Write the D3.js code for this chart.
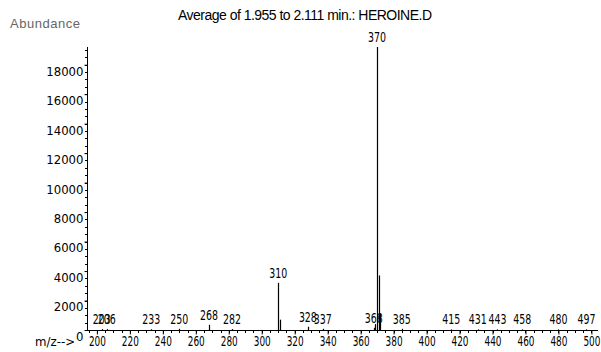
<!DOCTYPE html>
<html lang="en">
<meta charset="utf-8">
<head>
<script src="https://d3js.org/d3.v7.min.js"></script>
<style>
  body { margin: 0; background: #fff; }
  svg text { font-family: "DejaVu Sans Condensed", "DejaVu Sans", sans-serif; fill: #000; }
</style>
</head>
<body>
<svg id="spectrum" width="601" height="352"></svg>
<script>
// spectrum data
var mz        = [203, 206, 233, 250, 268, 282, 310, 311, 328, 337, 368, 369, 370, 371, 372, 385, 415, 431, 443, 458, 480, 497];
var abundance = [60, 60, 50, 80, 350, 60, 3200, 700, 220, 80, 150, 400, 19200, 3700, 1100, 80, 40, 40, 40, 40, 40, 40];
var labelled  = [203, 206, 233, 250, 268, 282, 310, 328, 337, 368, 370, 385, 415, 431, 443, 458, 480, 497];
var xTicks = [200, 220, 240, 260, 280, 300, 320, 340, 360, 380, 400, 420, 440, 460, 480, 500];
var yTicks = [0, 2000, 4000, 6000, 8000, 10000, 12000, 14000, 16000, 18000];

var svg = d3.select("svg#spectrum");

var x = d3.scaleLinear().domain([194, 504]).range([87, 598]);
var y = d3.scaleLinear().domain([0, 19200]).range([330, 47]);

// title + axis captions
svg.append("text")
  .attr("x", 178).attr("y", 20)
  .attr("textLength", 254)
  .style("font-size", "14px")
  .style("font-family", "Liberation Sans, Arial, sans-serif")
  .text("Average of 1.955 to 2.111 min.: HEROINE.D");

svg.append("text")
  .attr("x", 10).attr("y", 28)
  .attr("textLength", 70)
  .style("font-size", "13px")
  .style("font-family", "Liberation Sans, Arial, sans-serif")
  .style("fill", "#666")
  .text("Abundance");

svg.append("text")
  .attr("x", 35).attr("y", 346)
  .attr("textLength", 40)
  .attr("lengthAdjust", "spacingAndGlyphs")
  .style("font-size", "13px")
  .text("m/z-->");

// y axis
var yAxis = d3.axisLeft(y).tickValues(yTicks).tickSize(4).tickFormat(d3.format("d"));
var gy = svg.append("g").attr("transform", "translate(87.5,0)").call(yAxis);
gy.select(".domain").attr("d", "M0," + y(19200) + "V" + y(0));
gy.selectAll(".tick text")
  .attr("x", -4).attr("dy", "0.8em")
  .style("font-size", "13px");
gy.selectAll(".tick line").attr("x2", -3);

// y minor ticks
svg.append("g").selectAll("line")
  .data(d3.range(0, 19200, 500))
  .enter().append("line")
  .attr("x1", 85).attr("x2", 88)
  .attr("y1", function(d) { return Math.round(y(d)) + 0.5; })
  .attr("y2", function(d) { return Math.round(y(d)) + 0.5; })
  .attr("stroke", "#000");

// x axis
var xAxis = d3.axisBottom(x).tickValues(xTicks).tickSize(4).tickFormat(d3.format("d"));
var gx = svg.append("g").attr("transform", "translate(0,330.5)").call(xAxis);
gx.select(".domain").attr("d", "M87,0H598");
gx.selectAll(".tick text")
  .attr("y", 6)
  .attr("textLength", 17)
  .attr("lengthAdjust", "spacingAndGlyphs")
  .style("font-size", "14px");

// x minor ticks
svg.append("g").selectAll("line")
  .data(d3.range(195, 505, 5))
  .enter().append("line")
  .attr("x1", function(d) { return Math.round(x(d)) + 0.5; })
  .attr("x2", function(d) { return Math.round(x(d)) + 0.5; })
  .attr("y1", 330).attr("y2", 333)
  .attr("stroke", "#000");

// peaks
svg.append("g").selectAll("line")
  .data(mz)
  .enter().append("line")
  .attr("x1", function(d) { return Math.round(x(d)) + 0.5; })
  .attr("x2", function(d) { return Math.round(x(d)) + 0.5; })
  .attr("y1", y(0))
  .attr("y2", function(d, i) { return y(abundance[i]); })
  .attr("stroke", "#000")
  .attr("stroke-width", 1.2);

// peak labels
svg.append("g").selectAll("text")
  .data(labelled)
  .enter().append("text")
  .attr("x", function(d) { return x(d); })
  .attr("y", function(d) { return y(abundance[mz.indexOf(d)]) - 5; })
  .attr("text-anchor", "middle")
  .attr("textLength", 18)
  .attr("lengthAdjust", "spacingAndGlyphs")
  .style("font-size", "14px")
  .text(function(d) { return d; });
</script>
</body>
</html>
